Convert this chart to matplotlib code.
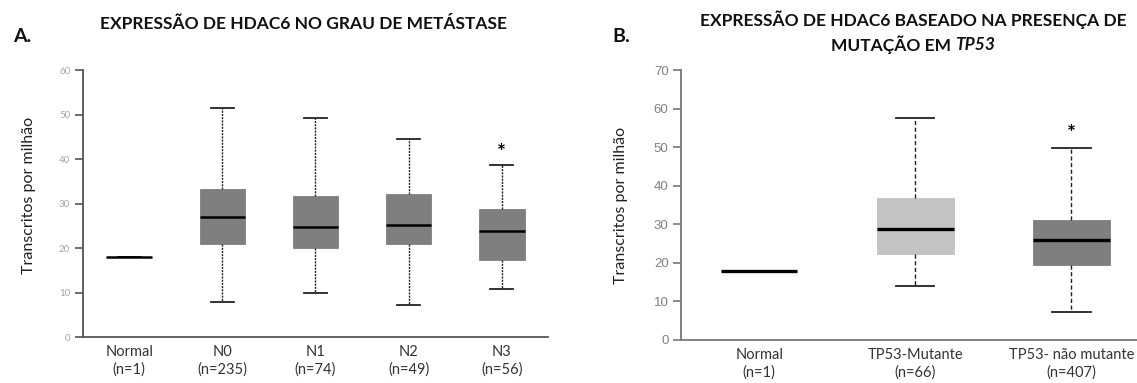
import matplotlib
matplotlib.use("Agg")
import matplotlib.pyplot as plt

# painel A - grau de metastase
cats_a = ["Normal\n(n=1)", "N0\n(n=235)", "N1\n(n=74)", "N2\n(n=49)", "N3\n(n=56)"]
med_a = [18.0, 26.9, 24.7, 25.1, 23.8]
q1_a = [18.0, 20.9, 20.1, 21.0, 17.4]
q3_a = [18.0, 33.2, 31.6, 32.2, 28.8]
lo_a = [18.0, 7.9, 9.8, 7.1, 10.7]
hi_a = [18.0, 51.4, 49.2, 44.5, 38.6]
star_a = [False, False, False, False, True]
yticks_a = [0, 10, 20, 30, 40, 50, 60]

# painel B - mutacao TP53
cats_b = ["Normal\n(n=1)", "TP53-Mutante\n(n=66)", "TP53- não mutante\n(n=407)"]
med_b = [18.0, 28.8, 25.9]
q1_b = [18.0, 22.3, 19.6]
q3_b = [18.0, 37.0, 31.2]
lo_b = [18.0, 13.9, 7.2]
hi_b = [18.0, 57.6, 49.8]
star_b = [False, False, True]
colors_b = ["#7f7f7f", "#c3c3c3", "#7f7f7f"]
yticks_b = [0, 10, 20, 30, 40, 50, 60, 70]

FONT = "Lato"
plt.rcParams["font.family"] = [FONT, "DejaVu Sans"]

fig = plt.figure(figsize=(11.37, 3.83), dpi=100)
ax_a = fig.add_axes([0.0727, 0.120, 0.4095, 0.697])
ax_b = fig.add_axes([0.599, 0.1123, 0.401, 0.7037])


def make_stats(med, q1, q3, lo, hi):
    return [dict(med=m, q1=a, q3=b, whislo=l, whishi=h, fliers=[])
            for m, a, b, l, h in zip(med, q1, q3, lo, hi)]


def draw_boxes(ax, stats, colors, wls, med_lw):
    pos = list(range(1, len(stats) + 1))
    bp = ax.bxp(stats, positions=pos, widths=0.49, capwidths=0.245,
                patch_artist=True, showfliers=False,
                medianprops=dict(color="black", lw=med_lw),
                whiskerprops=dict(color="#222222", lw=1.0, linestyle=wls),
                capprops=dict(color="#222222", lw=1.3),
                boxprops=dict(lw=0.6))
    for patch, c in zip(bp["boxes"], colors):
        patch.set_facecolor(c)
        patch.set_edgecolor(c)
    return pos


def style_axis(ax, spine_col, tick_col, tick_font, tick_size):
    for s in ["top", "right"]:
        ax.spines[s].set_visible(False)
    for s in ["left", "bottom"]:
        ax.spines[s].set_color(spine_col)
        ax.spines[s].set_linewidth(1.3)
    ax.tick_params(axis="y", length=6, width=1.2, color=spine_col,
                   labelcolor=tick_col, labelsize=tick_size, pad=3)
    ax.tick_params(axis="x", length=0, pad=6, labelsize=10.5, labelcolor="#333333")
    for t in ax.get_yticklabels():
        t.set_fontfamily(tick_font)
    for t in ax.get_xticklabels():
        t.set_linespacing(1.3)


# A
stats_a = make_stats(med_a, q1_a, q3_a, lo_a, hi_a)
pos_a = draw_boxes(ax_a, stats_a, ["#7f7f7f"] * len(stats_a), (0, (1.5, 0.8)), 1.8)
ax_a.set_xlim(0.5, 5.5)
ax_a.set_ylim(0, 60)
ax_a.set_yticks(yticks_a)
ax_a.set_xticks(pos_a)
ax_a.set_xticklabels(cats_a)
style_axis(ax_a, "#555555", "#a6a6a6", FONT, 7)
for p, h, s in zip(pos_a, hi_a, star_a):
    if s:
        ax_a.annotate("*", (p, h), xytext=(0, 9), textcoords="offset points",
                      ha="center", va="center", fontsize=15, fontweight="bold")

# B
stats_b = make_stats(med_b, q1_b, q3_b, lo_b, hi_b)
pos_b = draw_boxes(ax_b, stats_b, colors_b, (0, (3, 1.8)), 2.4)
ax_b.set_xlim(0.5, 3.42)
ax_b.set_ylim(0, 70)
ax_b.set_yticks(yticks_b)
ax_b.set_xticks(pos_b)
ax_b.set_xticklabels(cats_b)
style_axis(ax_b, "#777777", "#808080", "Liberation Sans", 9.5)
for p, h, s in zip(pos_b, hi_b, star_b):
    if s:
        ax_b.annotate("*", (p, h), xytext=(0, 10), textcoords="offset points",
                      ha="center", va="center", fontsize=15, fontweight="bold")

# rotulos eixo y
fig.text(29 / 1137, 1 - 195 / 383, "Transcritos por milhão", rotation=90,
         ha="center", va="center", fontsize=11.5, color="#222222")
fig.text(621 / 1137, 1 - 205 / 383, "Transcritos por milhão", rotation=90,
         ha="center", va="center", fontsize=11.5, color="#222222")

# titulos
fig.text(22 / 1137, 1 - 37 / 383, "A.", ha="center", va="center",
         fontsize=14, fontweight="bold", color="#111111")
fig.text(621 / 1137, 1 - 37 / 383, "B.", ha="center", va="center",
         fontsize=14, fontweight="bold", color="#111111")
fig.text(304 / 1137, 1 - 24 / 383, "EXPRESSÃO DE HDAC6 NO GRAU DE METÁSTASE",
         ha="center", va="center", fontsize=12.5, fontweight="bold", color="#111111")
fig.text(913 / 1137, 1 - 20 / 383, "EXPRESSÃO DE HDAC6 BASEADO NA PRESENÇA DE",
         ha="center", va="center", fontsize=12.5, fontweight="bold", color="#111111")

# segunda linha com TP53 em italico
fig.canvas.draw()
r = fig.canvas.get_renderer()
t1 = fig.text(0, 1 - 45 / 383, "MUTAÇÃO EM ", ha="left", va="center",
              fontsize=12.5, fontweight="bold", color="#111111")
t2 = fig.text(0, 1 - 45 / 383, "TP53", ha="left", va="center",
              fontsize=12.5, fontweight="bold", fontstyle="italic", color="#111111")
w1 = t1.get_window_extent(r).width
w2 = t2.get_window_extent(r).width
x0 = 913 - (w1 + w2) / 2
t1.set_x(x0 / 1137)
t2.set_x((x0 + w1) / 1137)

fig.savefig("out.png", dpi=100)
